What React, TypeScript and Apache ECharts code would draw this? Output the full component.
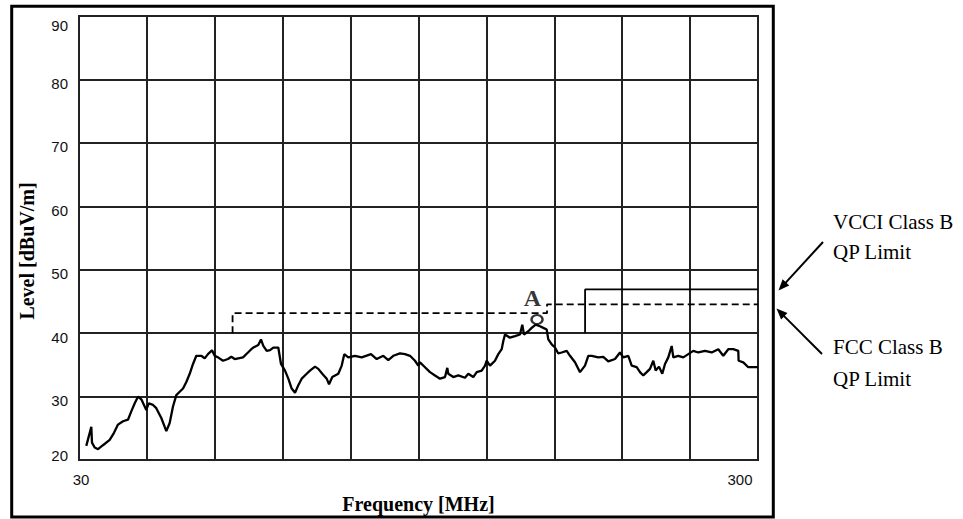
import React, { useEffect, useRef } from "react";
import * as echarts from "echarts";

// Measured trace: frequency (MHz) and level (dBuV/m)
const freqMHz = [
  30.75, 31.28, 31.35, 31.64, 32.0, 32.54, 33.29, 33.78, 34.24, 34.83,
  35.42, 35.82, 36.24, 36.64, 37.06, 37.69, 38.0, 38.56, 38.99, 39.66,
  40.34, 40.8, 41.26, 41.73, 42.21, 42.69, 43.17, 43.67, 44.16, 44.66,
  45.42, 45.95, 46.46, 47.1, 47.53, 48.07, 48.89, 49.72, 50.28, 50.87,
  52.32, 53.21, 53.81, 54.18, 55.1, 55.61, 56.05, 56.7, 57.34, 57.98,
  58.97, 59.51, 60.33, 61.01, 61.71, 62.41, 63.11, 63.84, 64.93, 65.66,
  66.79, 67.54, 68.46, 69.49, 70.04, 70.82, 72.28, 73.12, 73.76, 74.77,
  76.49, 78.25, 80.75, 82.33, 84.19, 85.63, 87.1, 89.1, 90.62, 92.17,
  93.75, 94.8, 95.35, 96.98, 98.64, 100.33, 102.04, 103.79, 104.6, 104.96,
  106.75, 108.58, 111.07, 112.32, 114.24, 115.57, 117.54, 118.87, 119.55, 120.9,
  122.96, 124.35, 125.79, 126.48, 127.21, 129.38, 131.59, 133.84, 134.89, 135.67,
  137.67, 139.26, 141.16, 143.24, 144.85, 146.53, 147.33, 149.03, 150.71, 152.41,
  154.18, 156.81, 158.58, 161.29, 164.05, 166.85, 168.73, 170.69, 174.55, 177.53,
  180.57, 184.72, 187.88, 189.99, 193.24, 195.48, 198.82, 201.06, 203.32, 205.68,
  207.99, 210.34, 212.05, 214.44, 216.85, 218.85, 221.31, 223.88, 225.1, 228.94,
  232.86, 236.84, 240.89, 245.01, 250.64, 256.4, 262.2, 266.68, 271.24, 275.88,
  280.6, 280.9, 285.4, 290.27, 296.95, 300,
];

const levelDb = [
  22.23, 25.22, 22.74, 21.97, 21.7, 22.33, 23.16, 24.29, 25.58, 26.11,
  26.35, 27.66, 28.94, 29.98, 29.56, 27.9, 28.94, 28.68, 28.17, 26.62,
  24.56, 25.84, 28.43, 30.23, 30.76, 31.27, 32.3, 33.59, 35.14, 36.43,
  36.43, 36.02, 36.69, 37.31, 36.43, 36.18, 35.65, 35.92, 36.27, 35.92,
  36.18, 36.95, 37.47, 37.73, 38.13, 39.01, 37.98, 37.2, 37.31, 37.73,
  37.73, 35.14, 34.1, 32.82, 31.27, 30.6, 31.78, 32.82, 33.59, 34.1,
  34.72, 34.37, 33.59, 32.82, 31.93, 33.08, 33.59, 34.88, 36.69, 36.18,
  36.43, 36.18, 36.69, 35.92, 36.43, 35.76, 36.43, 36.8, 36.69, 36.43,
  35.65, 34.88, 35.4, 34.63, 33.85, 33.33, 32.82, 33.08, 34.52, 33.59,
  33.08, 33.33, 32.97, 33.59, 33.08, 33.85, 34.1, 34.88, 35.65, 34.88,
  35.65, 36.69, 37.47, 38.75, 39.79, 39.28, 39.53, 39.79, 41.34, 39.79,
  40.3, 40.83, 41.34, 41.08, 40.83, 40.56, 39.01, 38.24, 37.73, 36.8,
  36.95, 37.2, 36.43, 35.4, 33.85, 34.88, 36.43, 36.43, 36.18, 36.27,
  35.56, 35.92, 36.95, 36.18, 36.43, 34.88, 34.63, 33.85, 33.33, 33.85,
  34.37, 35.65, 34.1, 34.72, 33.59, 35.14, 36.18, 37.98, 36.18, 36.43,
  36.18, 36.69, 37.2, 36.95, 37.2, 36.95, 37.47, 36.43, 37.47, 37.47,
  37.2, 35.65, 35.4, 34.63, 34.63, 34.63,
];

// FCC Class B QP limit (dashed)
const fccFreq = [50.5, 50.5, 146.7, 146.7, 300];
const fccLevel = [40, 43.15, 43.15, 44.55, 44.55];

// VCCI Class B QP limit (solid)
const vcciFreq = [166.9, 166.9, 300];
const vcciLevel = [40, 46.9, 46.9];

// Marker A
const markerFreq = [141.8];
const markerLevel = [42.16];
const markerLabel = ["A"];

// Axis ticks
const xLabelFreqs = [30, 300];
const yMin = 20;
const yMax = 90;
const yStep = 10;
const xStartMHz = 30;
const xDecades = 10; // grid divisions across the decade

const noteVcci = ["VCCI Class B", "QP Limit"];
const noteFcc = ["FCC Class B", "QP Limit"];

const toPos = (f: number) => xDecades * Math.log10(f / xStartMHz);

function arrow(tail: number[], tip: number[]) {
  const dx = tip[0] - tail[0];
  const dy = tip[1] - tail[1];
  const len = Math.hypot(dx, dy);
  const ux = dx / len;
  const uy = dy / len;
  const nx = -uy;
  const ny = ux;
  const L = 11;
  const W = 4.5;
  const bx = tip[0] - ux * L;
  const by = tip[1] - uy * L;
  return [
    {
      type: "line",
      shape: { x1: tail[0], y1: tail[1], x2: bx + ux * 2, y2: by + uy * 2 },
      style: { stroke: "#000", lineWidth: 2 },
    },
    {
      type: "polygon",
      shape: {
        points: [
          [tip[0], tip[1]],
          [bx + nx * W, by + ny * W],
          [bx - nx * W, by - ny * W],
        ],
      },
      style: { fill: "#000" },
    },
  ];
}

export default function App() {
  const ref = useRef<HTMLDivElement>(null);

  useEffect(() => {
    if (!ref.current) return;
    const chart = echarts.init(ref.current, undefined, { renderer: "svg" });

    const serif = "Liberation Serif";
    const sans = "Arial";

    const noteFont = `21px ${serif}`;
    const lab = { fontSize: 15, fontFamily: sans, color: "#111", fontWeight: "normal" };

    const option: any = {
      animation: false,
      backgroundColor: "#fff",
      grid: {
        left: 79,
        top: 16,
        right: 205,
        bottom: 51.3,
        show: true,
        borderColor: "#222",
        borderWidth: 2,
        backgroundColor: "#fff",
      },
      xAxis: {
        type: "value",
        min: 0,
        max: xDecades,
        interval: 1,
        axisLine: { show: false },
        axisTick: { show: false },
        splitLine: { show: true, lineStyle: { color: "#222", width: 2 } },
        axisLabel: {
          margin: 12,
          ...lab,
          formatter: (v: number) => {
            for (const f of xLabelFreqs) {
              if (Math.abs(toPos(f) - v) < 1e-6) {
                return f === xLabelFreqs[xLabelFreqs.length - 1]
                  ? `{r|${f}}`
                  : `{n|${f}}`;
              }
            }
            return "";
          },
          rich: {
            n: { ...lab, padding: [0, 0, 0, 4] },
            r: { ...lab, padding: [0, 36, 0, 0] },
          },
        },
        name: "Frequency [MHz]",
        nameLocation: "middle",
        nameGap: 34,
        nameTextStyle: {
          fontFamily: serif,
          fontWeight: "bold",
          fontSize: 20,
          color: "#000",
        },
      },
      yAxis: {
        type: "value",
        min: yMin,
        max: yMax,
        interval: yStep,
        axisLine: { show: false },
        axisTick: { show: false },
        splitLine: { show: true, lineStyle: { color: "#222", width: 2 } },
        axisLabel: {
          margin: 11,
          ...lab,
          formatter: (v: number) => {
            if (v === yMin) return `{lo|${v}}`;
            if (v === yMax) return `{hi|${v}}`;
            return `{n|${v}}`;
          },
          rich: {
            n: { ...lab, padding: [8, 0, 0, 0] },
            hi: { ...lab, padding: [18, 0, 0, 0] },
            lo: { ...lab, padding: [0, 0, 10, 0] },
          },
        },
        name: "Level [dBuV/m]",
        nameLocation: "middle",
        nameGap: 42,
        nameRotate: 90,
        nameTextStyle: {
          fontFamily: serif,
          fontWeight: "bold",
          fontSize: 20,
          color: "#000",
          padding: [0, 26, 0, 0],
        },
      },
      series: [
        {
          name: "Measured",
          type: "line",
          data: freqMHz.map((f, i) => [toPos(f), levelDb[i]]),
          showSymbol: false,
          symbol: "none",
          lineStyle: { color: "#000", width: 2.3 },
          z: 4,
        },
        {
          name: "FCC Class B QP Limit",
          type: "line",
          data: fccFreq.map((f, i) => [toPos(f), fccLevel[i]]),
          showSymbol: false,
          symbol: "none",
          lineStyle: { color: "#000", width: 1.8, type: [7, 4] },
          z: 3,
        },
        {
          name: "VCCI Class B QP Limit",
          type: "line",
          data: vcciFreq.map((f, i) => [toPos(f), vcciLevel[i]]),
          showSymbol: false,
          symbol: "none",
          lineStyle: { color: "#000", width: 1.8 },
          z: 3,
        },
        {
          name: "Marker",
          type: "scatter",
          data: markerFreq.map((f, i) => [toPos(f), markerLevel[i]]),
          symbol: "circle",
          symbolSize: [11, 9],
          itemStyle: { color: "#fff", borderColor: "#000", borderWidth: 2.2 },
          label: {
            show: true,
            position: "top",
            distance: 4,
            offset: [-4.5, 0],
            formatter: (p: any) => markerLabel[p.dataIndex],
            fontFamily: serif,
            fontWeight: "bold",
            fontSize: 24,
            color: "#000",
          },
          z: 5,
        },
      ],
      graphic: [
        {
          type: "rect",
          shape: { x: 11.7, y: 6.2, width: 761.6, height: 510.8 },
          style: { fill: "none", stroke: "#000", lineWidth: 3 },
          z: 10,
        },
        {
          type: "text",
          x: 833,
          y: 222,
          style: { text: noteVcci[0], font: noteFont, fill: "#000", verticalAlign: "middle" },
        },
        {
          type: "text",
          x: 833,
          y: 252,
          style: { text: noteVcci[1], font: noteFont, fill: "#000", verticalAlign: "middle" },
        },
        {
          type: "text",
          x: 833,
          y: 347,
          style: { text: noteFcc[0], font: noteFont, fill: "#000", verticalAlign: "middle" },
        },
        {
          type: "text",
          x: 833,
          y: 379,
          style: { text: noteFcc[1], font: noteFont, fill: "#000", verticalAlign: "middle" },
        },
        ...arrow([823, 242], [778.5, 290.5]),
        ...arrow([822, 354], [776.5, 308.5]),
      ],
    };

    chart.setOption(option);
    return () => {
      chart.dispose();
    };
  }, []);

  return (
    <div
      ref={ref}
      style={{
        position: "absolute",
        left: 0,
        top: 0,
        width: 963,
        height: 519,
        background: "#fff",
      }}
    />
  );
}
